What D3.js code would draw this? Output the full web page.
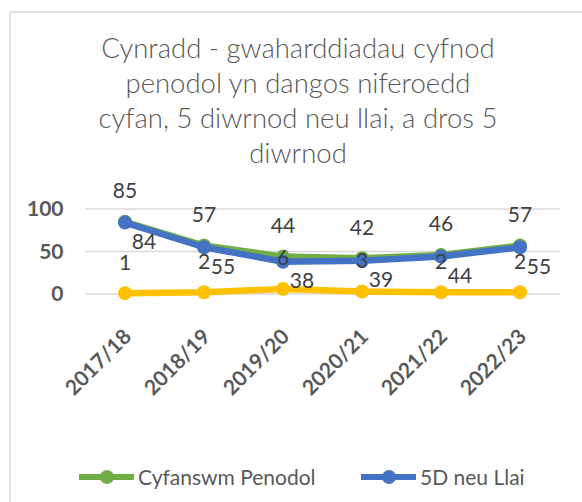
<!DOCTYPE html>
<html>
<head>
<meta charset="utf-8">
<script src="https://cdn.jsdelivr.net/npm/d3@7"></script>
<style>
  body { margin: 0; background: #fff; }
  svg { display: block; font-family: Lato, "Open Sans", sans-serif; }
</style>
</head>
<body>
<div id="chartWrapper"></div>
<script>
// data
var categories = ["2017/18", "2018/19", "2019/20", "2020/21", "2021/22", "2022/23"];
var totalValues = [85, 57, 44, 42, 46, 57];   // Cyfanswm Penodol
var shortValues = [84, 55, 38, 39, 44, 55];   // 5D neu Llai
var longValues = [1, 2, 6, 3, 2, 2];          // dros 5 diwrnod
var yTicks = [0, 50, 100];
var titleLines = [
    "Cynradd - gwaharddiadau cyfnod",
    "penodol yn dangos niferoedd",
    "cyfan, 5 diwrnod neu llai, a dros 5",
    "diwrnod"
];
var legendNames = ["Cyfanswm Penodol", "5D neu Llai"];

var w = 582;
var h = 502;
var plot = { left: 85.5, right: 559.5, top: 209, bottom: 294 };

var svg = d3.select("#chartWrapper").append("svg")
    .attr("width", w)
    .attr("height", h);

// chart frame (runs off the right and bottom edges)
svg.append("rect")
    .attr("x", 10)
    .attr("y", 12)
    .attr("width", 640)
    .attr("height", 600)
    .attr("fill", "#fff")
    .attr("stroke", "#d9d9d9")
    .attr("stroke-width", 1.5);

// title
svg.append("g").selectAll("text")
    .data(titleLines)
    .enter()
    .append("text")
    .attr("x", 298)
    .attr("y", function(d, i){ return 58 + i * 35; })
    .attr("text-anchor", "middle")
    .style("font-size", "27.5px")
    .style("font-weight", 300)
    .style("fill", "#595959")
    .text(function(d){ return d; });

var x = d3.scalePoint()
    .domain(categories)
    .range([plot.left, plot.right])
    .padding(0.5);
var y = d3.scaleLinear()
    .domain([0, 100])
    .range([plot.bottom, plot.top]);

// gridlines
svg.append("g").selectAll("line")
    .data(yTicks)
    .enter()
    .append("line")
    .attr("x1", plot.left)
    .attr("x2", plot.right)
    .attr("y1", function(d){ return y(d); })
    .attr("y2", function(d){ return y(d); })
    .attr("stroke", "#d9d9d9")
    .attr("stroke-width", 1.5);

// y axis
var yAxis = d3.axisLeft(y).tickValues(yTicks).tickSize(0).tickPadding(22);
var yG = svg.append("g")
    .attr("transform", "translate(" + plot.left + ",0)")
    .call(yAxis);
yG.select(".domain").remove();
yG.selectAll("text")
    .style("font-family", "Lato, sans-serif")
    .style("font-size", "21px")
    .style("font-weight", "bold")
    .style("fill", "#595959");

// x axis, rotated labels
var xAxis = d3.axisBottom(x).tickSize(0);
var xG = svg.append("g")
    .attr("transform", "translate(0," + plot.bottom + ")")
    .call(xAxis);
xG.select(".domain").remove();
xG.selectAll("text")
    .attr("y", 0)
    .attr("dy", 0)
    .attr("text-anchor", "end")
    .attr("transform", "translate(7,44) rotate(-45)")
    .style("font-family", "Lato, sans-serif")
    .style("font-size", "21px")
    .style("font-weight", "bold")
    .style("fill", "#595959");

var series = [
    { values: totalValues, color: "#70ad47" },
    { values: shortValues, color: "#4472c4" },
    { values: longValues, color: "#ffc000" }
];

var line = d3.line()
    .x(function(d, i){ return x(categories[i]); })
    .y(function(d){ return y(d); });

series.forEach(function(s){
    var g = svg.append("g");
    g.append("path")
        .attr("d", line(s.values))
        .attr("fill", "none")
        .attr("stroke", s.color)
        .attr("stroke-width", 6.5)
        .attr("stroke-linejoin", "round");
    g.selectAll("circle")
        .data(s.values)
        .enter()
        .append("circle")
        .attr("cx", function(d, i){ return x(categories[i]); })
        .attr("cy", function(d){ return y(d); })
        .attr("r", 7)
        .attr("fill", s.color);
});

// data labels
var labelOffsets = [
    { dx: 0, dy: -31 },
    { dx: 19, dy: 19 },
    { dx: 0, dy: -31 }
];
series.forEach(function(s, k){
    svg.append("g").selectAll("text")
        .data(s.values)
        .enter()
        .append("text")
        .attr("x", function(d, i){ return x(categories[i]) + labelOffsets[k].dx; })
        .attr("y", function(d){ return y(d) + labelOffsets[k].dy; })
        .attr("dy", "0.36em")
        .attr("text-anchor", "middle")
        .style("font-size", "21px")
        .style("fill", "#404040")
        .text(function(d){ return d; });
});

// legend
var legendX = [79, 361];
var legend = svg.append("g").selectAll("g")
    .data(legendNames)
    .enter()
    .append("g")
    .attr("transform", function(d, i){ return "translate(" + legendX[i] + ",477)"; });
legend.append("line")
    .attr("x1", 0)
    .attr("x2", 55)
    .attr("stroke", function(d, i){ return series[i].color; })
    .attr("stroke-width", 6);
legend.append("circle")
    .attr("cx", 28)
    .attr("r", 7)
    .attr("fill", function(d, i){ return series[i].color; });
legend.append("text")
    .attr("x", 59)
    .attr("dy", "0.36em")
    .style("font-size", "21px")
    .style("fill", "#595959")
    .text(function(d){ return d; });
</script>
</body>
</html>
